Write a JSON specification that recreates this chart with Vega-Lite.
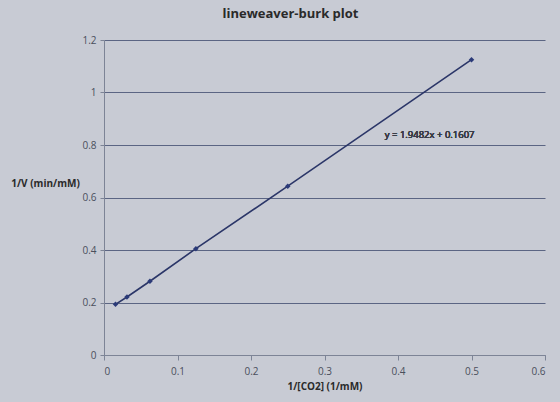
{
  "$schema": "https://vega.github.io/schema/vega-lite/v6.json",
  "width": 441,
  "height": 315,
  "autosize": {"type": "none"},
  "padding": {"left": 104, "top": 40, "right": 15, "bottom": 47},
  "background": "#c8cbd4",
  "title": {
    "text": "lineweaver-burk plot",
    "fontSize": 13,
    "fontWeight": "bold",
    "font": "Open Sans",
    "color": "#2a2a2a",
    "anchor": "middle",
    "dx": -34,
    "offset": 14
  },
  "data": {
    "values": [
      {"s": 0.015625, "v": 0.193},
      {"s": 0.03125, "v": 0.221},
      {"s": 0.0625, "v": 0.281},
      {"s": 0.125, "v": 0.405},
      {"s": 0.25, "v": 0.643},
      {"s": 0.5, "v": 1.125}
    ]
  },
  "config": {
    "view": {"stroke": null},
    "axis": {
      "labelFont": "Open Sans",
      "titleFont": "Open Sans",
      "labelColor": "#4a4f5c",
      "titleColor": "#2a2a2a",
      "labelFontSize": 10,
      "titleFontSize": 10,
      "domainColor": "#7d8496",
      "tickColor": "#7d8496",
      "gridColor": "#4f5a7a",
      "gridOpacity": 0.9
    }
  },
  "layer": [
    {
      "mark": {"type": "line", "color": "#2b3668", "strokeWidth": 1.6},
      "encoding": {
        "x": {
          "field": "s",
          "type": "quantitative",
          "scale": {"domain": [0, 0.6], "nice": false},
          "axis": {
            "values": [0, 0.1, 0.2, 0.3, 0.4, 0.5, 0.6],
            "format": "~g",
            "grid": false,
            "title": "1/[CO2] (1/mM)",
            "titleFontWeight": "bold",
            "tickSize": 5,
            "labelPadding": 6,
            "titlePadding": 5
          }
        },
        "y": {
          "field": "v",
          "type": "quantitative",
          "scale": {"domain": [0, 1.2], "nice": false},
          "axis": {
            "values": [0, 0.2, 0.4, 0.6, 0.8, 1, 1.2],
            "format": "~g",
            "grid": true,
            "title": "1/V (min/mM)",
            "titleFontWeight": "bold",
            "titleAngle": 0,
            "titleAlign": "center",
            "titleBaseline": "middle",
            "titleX": -59,
            "titleY": 143,
            "tickSize": 4,
            "labelPadding": 4
          }
        }
      }
    },
    {
      "mark": {"type": "point", "shape": "diamond", "filled": true, "color": "#2b3a78", "size": 30, "opacity": 1},
      "encoding": {
        "x": {"field": "s", "type": "quantitative"},
        "y": {"field": "v", "type": "quantitative"}
      }
    },
    {
      "mark": {"type": "text", "align": "left", "baseline": "middle", "font": "Open Sans", "fontSize": 9.5, "fontWeight": "normal", "color": "#3a3d47"},
      "encoding": {
        "x": {"datum": 0.382},
        "y": {"datum": 0.84},
        "text": {"value": "y = 1.9482x  + 0.1607"}
      }
    }
  ]
}
